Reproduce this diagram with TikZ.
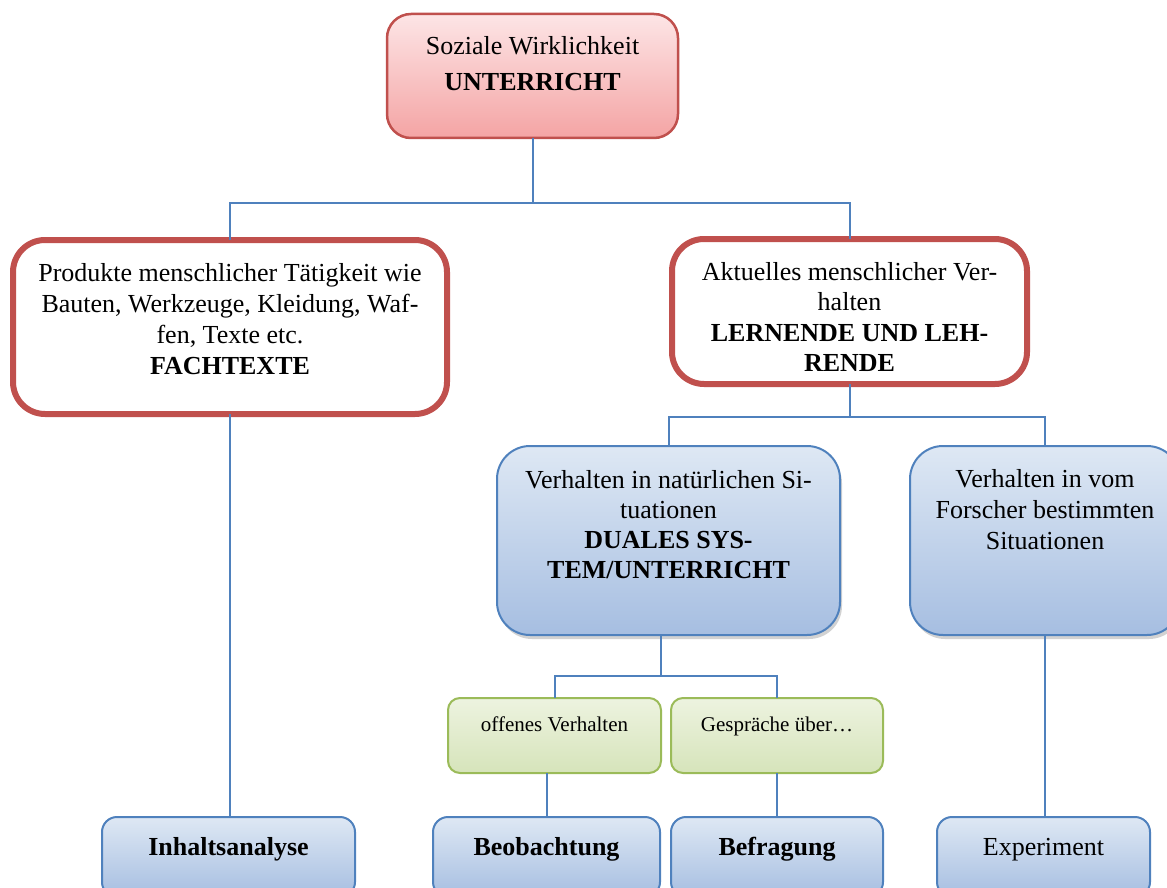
\documentclass[tikz,border=0pt]{standalone}
\usepackage{fontspec}
\setmainfont{Liberation Serif}
\usetikzlibrary{shadows,calc}
\definecolor{redline}{RGB}{192,80,77}
\definecolor{redtop}{RGB}{253,229,230}
\definecolor{redbot}{RGB}{244,164,164}
\definecolor{blueline}{RGB}{79,129,189}
\definecolor{bluetop}{RGB}{222,232,244}
\definecolor{bluebot}{RGB}{166,190,225}
\definecolor{greenline}{RGB}{155,187,89}
\definecolor{greentop}{RGB}{237,243,224}
\definecolor{greenbot}{RGB}{214,228,186}
\newcommand{\bxt}[6]{\parbox[c][#2pt][t]{#1pt}{\fontsize{#4}{#5}\selectfont\centering\vspace*{#3pt}\strut #6}}
\tikzset{
  basebox/.style={inner sep=0pt, outer sep=0pt},
  redsoft/.style={basebox, draw=redline, line width=2.5pt, rounded corners=24pt, top color=redtop, bottom color=redbot},
  redbold/.style={basebox, draw=redline, line width=6pt, rounded corners=32pt, fill=white},
  bluebig/.style={basebox, draw=blueline, line width=2pt, rounded corners=33pt, top color=bluetop, bottom color=bluebot,
     drop shadow={shadow xshift=2pt, shadow yshift=-4pt, fill=black!35}},
  greenbox/.style={basebox, draw=greenline, line width=2pt, rounded corners=12pt, top color=greentop, bottom color=greenbot},
  leafbox/.style={basebox, draw=blueline, line width=2pt, rounded corners=15pt, top color=bluetop, bottom color=bluebot},
  conn/.style={draw=blueline, line width=2pt},
}
\begin{document}
\begin{tikzpicture}[x=1pt,y=-1pt]
\useasboundingbox (0,0) rectangle (1167,888);
\clip (0,0) rectangle (1167,888);
% boxes
\node[redsoft] (top) at (532.5,76) {\bxt{291}{124}{15.3}{26}{36}{Soziale Wirklichkeit\\\textbf{UNTERRICHT}}};
\node[redbold] (left) at (230,327) {\bxt{434}{174}{20.5}{26}{30.7}{Produkte menschlicher Tätigkeit wie\\Bauten, Werkzeuge, Kleidung, Waf-\\fen, Texte etc.\\\textbf{FACHTEXTE}}};
\node[redbold] (right) at (849.5,311.5) {\bxt{355}{145}{20.3}{26}{30.3}{Aktuelles menschlicher Ver-\\halten\\\textbf{LERNENDE UND LEH-}\\\textbf{RENDE}}};
\node[bluebig] (nat) at (668.5,540.5) {\bxt{343}{189}{21.5}{26}{30}{Verhalten in natürlichen Si-\\tuationen\\\textbf{DUALES SYS-}\\\textbf{TEM/UNTERRICHT}}};
\node[bluebig] (forsch) at (1045,540.5) {\bxt{270}{189}{19.8}{26}{31}{Verhalten in vom\\Forscher bestimmten\\Situationen}};
\node[greenbox] (offen) at (554.5,735.5) {\bxt{213}{75}{15.5}{21}{25}{offenes Verhalten}};
\node[greenbox] (gespr) at (777,735.5) {\bxt{212}{75}{15.5}{21}{25}{Gespräche über…}};
\node[leafbox] (inh) at (228.5,857) {\bxt{253}{80}{17}{26}{30}{\textbf{Inhaltsanalyse}}};
\node[leafbox] (beob) at (546.5,857) {\bxt{227}{80}{17}{26}{30}{\textbf{Beobachtung}}};
\node[leafbox] (befr) at (777,857) {\bxt{212}{80}{17}{26}{30}{\textbf{Befragung}}};
\node[leafbox] (exp) at (1043.5,857) {\bxt{213}{80}{17}{26}{30}{Experiment}};
% junctions
\coordinate (j1) at (532,203);
\coordinate (j2) at (850,417);
\coordinate (j3) at (661,676);
% connectors
\draw[conn] (top.south) -- (top.south |- j1) -| (left.north);
\draw[conn] (top.south |- j1) -| (right.north);
\draw[conn] (right.south) -- (right.south |- j2) -| (nat.north);
\draw[conn] (right.south |- j2) -| (forsch.north);
\draw[conn] (nat.south -| j3) -- (j3) -| (offen.north);
\draw[conn] (j3) -| (gespr.north);
\draw[conn] (left.south) -- (left.south |- inh.north);
\draw[conn] (offen.south -| beob.north) -- (beob.north);
\draw[conn] (gespr.south) -- (befr.north);
\draw[conn] (forsch.south) -- (forsch.south |- exp.north);
\end{tikzpicture}
\end{document}
